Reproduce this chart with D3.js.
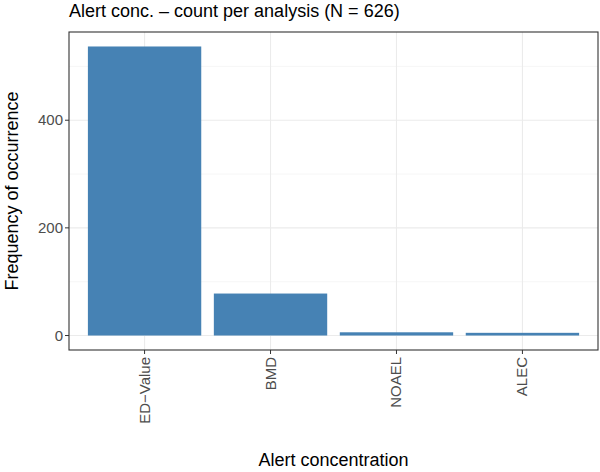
<!DOCTYPE html>
<html><head><meta charset="utf-8">
<script src="https://cdn.jsdelivr.net/npm/d3@7"></script>
<style>body{margin:0;background:#fff}text{font-family:"Liberation Sans",Arial,sans-serif}</style>
</head><body><svg id="c" width="600" height="472"></svg>
<script>
const categories = ["ED\u2212Value","BMD","NOAEL","ALEC"];
const counts = [537, 78, 6, 5];
const yTicks = [0,200,400];
const svg = d3.select("#c");
const L=69,R=598,T=32,B=350;
const x = d3.scaleBand().domain(categories).range([L,R]).paddingInner(0.1/0.9*0.9/1).paddingOuter(0);
// ggplot: expand 0.6 units each side, bar width 0.9
const unit=(R-L)/(categories.length-1+1.2);
const cx = c => L + unit*(0.6+categories.indexOf(c));
const y = d3.scaleLinear().domain([-26.9,563.9]).range([B,T]);
svg.append("rect").attr("x",L).attr("y",T).attr("width",R-L).attr("height",B-T).attr("fill","#fff");
const minor=[100,300,500];
svg.selectAll(".mn").data(minor).enter().append("line").attr("x1",L).attr("x2",R).attr("y1",d=>y(d)).attr("y2",d=>y(d)).attr("stroke","#f0f0f0").attr("stroke-width",0.6);
svg.selectAll(".mj").data(yTicks).enter().append("line").attr("x1",L).attr("x2",R).attr("y1",d=>y(d)).attr("y2",d=>y(d)).attr("stroke","#ebebeb").attr("stroke-width",1.1);
svg.selectAll(".vx").data(categories).enter().append("line").attr("x1",cx).attr("x2",cx).attr("y1",T).attr("y2",B).attr("stroke","#ebebeb").attr("stroke-width",1.1);
svg.selectAll(".bar").data(categories).enter().append("rect")
 .attr("x",d=>cx(d)-unit*0.45).attr("width",unit*0.9)
 .attr("y",(d,i)=>y(counts[i])).attr("height",(d,i)=>y(0)-y(counts[i])).attr("fill","#4682b4");
svg.append("rect").attr("x",L).attr("y",T).attr("width",R-L).attr("height",B-T).attr("fill","none").attr("stroke","#333").attr("stroke-width",1.1);
// y ticks
yTicks.forEach(v=>{
 svg.append("line").attr("x1",L-4).attr("x2",L).attr("y1",y(v)).attr("y2",y(v)).attr("stroke","#333");
 svg.append("text").attr("x",L-6).attr("y",y(v)).attr("dy","0.35em").attr("text-anchor","end").attr("font-size",15).attr("fill","#4d4d4d").text(v);
});
categories.forEach(c=>{
 svg.append("line").attr("x1",cx(c)).attr("x2",cx(c)).attr("y1",B).attr("y2",B+4).attr("stroke","#333");
 svg.append("text").attr("transform",`translate(${cx(c)+5},${B+7}) rotate(-90)`).attr("text-anchor","end").attr("font-size",15).attr("fill","#4d4d4d").text(c);
});
svg.append("text").attr("x",(L+R)/2).attr("y",466).attr("text-anchor","middle").attr("font-size",18).attr("fill","#000").text("Alert concentration");
svg.append("text").attr("transform",`translate(18,${(T+B)/2}) rotate(-90)`).attr("text-anchor","middle").attr("font-size",18).attr("fill","#000").text("Frequency of occurrence");
svg.append("text").attr("x",L).attr("y",17).attr("font-size",18).attr("fill","#000").text("Alert conc. \u2013 count per analysis (N = 626)");
</script></body></html>
